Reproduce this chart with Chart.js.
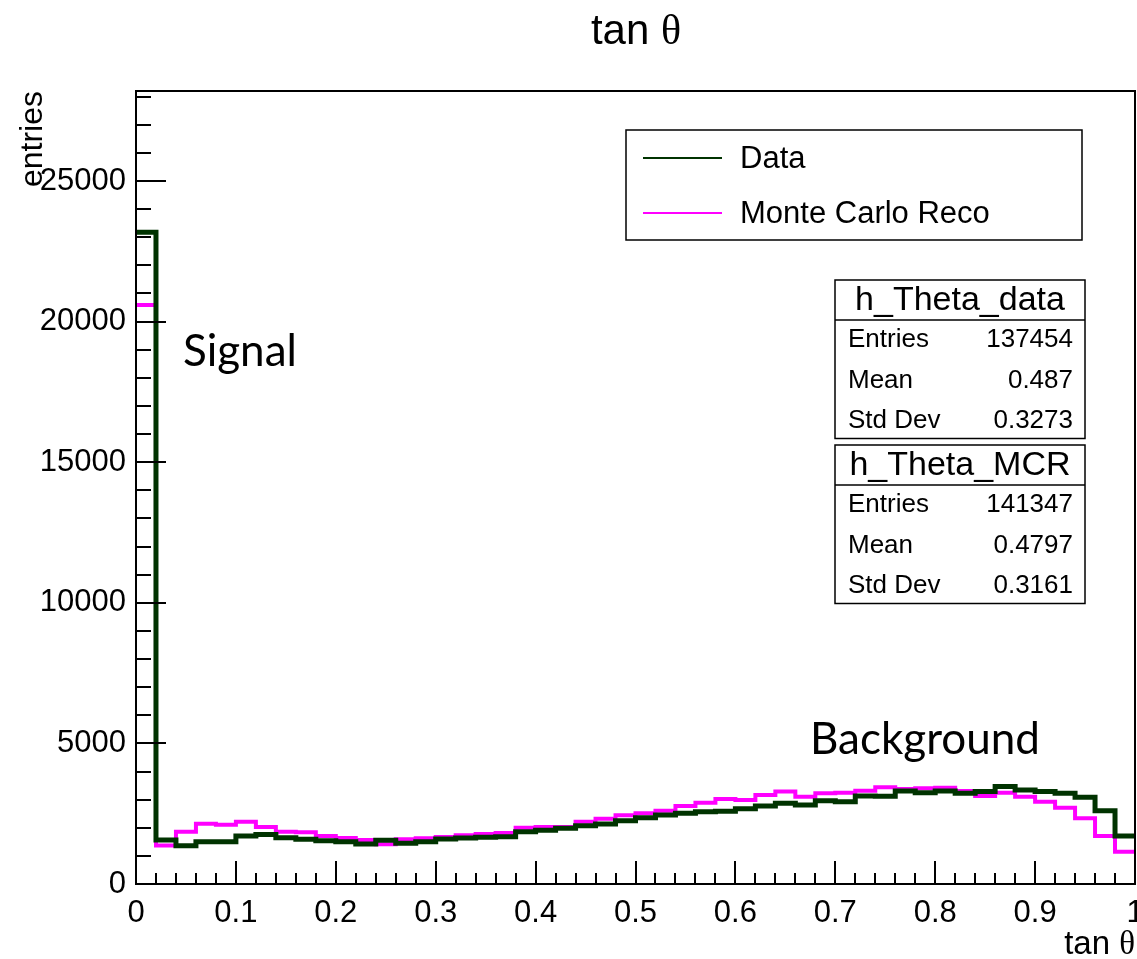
<!DOCTYPE html>
<html>
<head>
<meta charset="utf-8">
<title>tan θ</title>
<script src="https://cdn.jsdelivr.net/npm/chart.js@4.4.1/dist/chart.umd.min.js"></script>
<style>
  html, body { margin: 0; padding: 0; background: #fff; }
  #wrap { width: 1137px; height: 959px; }
</style>
</head>
<body>
<div id="wrap"><canvas id="histo" width="1137" height="959"></canvas></div>
<script>
// ─────────────────────────────────────────
//  Histogram contents : 50 bins on [0, 1]
// ─────────────────────────────────────────

const binLowEdges = [
  0.00, 0.02, 0.04, 0.06, 0.08, 0.10, 0.12, 0.14, 0.16, 0.18,
  0.20, 0.22, 0.24, 0.26, 0.28, 0.30, 0.32, 0.34, 0.36, 0.38,
  0.40, 0.42, 0.44, 0.46, 0.48, 0.50, 0.52, 0.54, 0.56, 0.58,
  0.60, 0.62, 0.64, 0.66, 0.68, 0.70, 0.72, 0.74, 0.76, 0.78,
  0.80, 0.82, 0.84, 0.86, 0.88, 0.90, 0.92, 0.94, 0.96, 0.98
];
const xUpEdge = 1.0;

// h_Theta_data
const dataCounts = [
  23180, 1566, 1363, 1505, 1505, 1708, 1760, 1648, 1591, 1541,
   1505, 1423, 1555, 1448, 1505, 1601, 1637, 1662, 1683, 1861,
   1911, 1982, 2075, 2135, 2253, 2360, 2456, 2516, 2573, 2587,
   2680, 2776, 2872, 2811, 2964, 2929, 3132, 3120, 3310, 3249,
   3310, 3228, 3285, 3463, 3345, 3285, 3228, 3085, 2609, 1708
];

// h_Theta_MCR
const mcRecoCounts = [
  20590, 1370, 1861, 2142, 2110, 2217, 2028, 1861, 1840, 1708,
   1637, 1566, 1413, 1591, 1626, 1673, 1733, 1779, 1815, 2004,
   2028, 2030, 2217, 2324, 2445, 2516, 2609, 2776, 2893, 3025,
   2989, 3167, 3285, 3107, 3228, 3249, 3320, 3441, 3381, 3406,
   3427, 3310, 3132, 3249, 3107, 2929, 2715, 2338, 1708, 1149
];

const xTickValues = [0, 0.1, 0.2, 0.3, 0.4, 0.5, 0.6, 0.7, 0.8, 0.9, 1];
const xTickLabels = ['0', '0.1', '0.2', '0.3', '0.4', '0.5', '0.6', '0.7', '0.8', '0.9', '1'];
const yTickValues = [0, 5000, 10000, 15000, 20000, 25000];
const yTickLabels = ['0', '5000', '10000', '15000', '20000', '25000'];

const legendLabels = ['Data', 'Monte Carlo Reco'];
const statsDataTitle = 'h_Theta_data';
const statsDataRows  = [['Entries', '137454'], ['Mean', '0.487'], ['Std Dev', '0.3273']];
const statsMcrTitle  = 'h_Theta_MCR';
const statsMcrRows   = [['Entries', '141347'], ['Mean', '0.4797'], ['Std Dev', '0.3161']];

const COL_DATA = '#003300';
const COL_MCR  = '#ff00ff';
const SANS  = '"Liberation Sans", Arial, Helvetica, sans-serif';
const SERIF = '"Liberation Serif", "DejaVu Serif", serif';
const NOTE  = 'Lato, "Open Sans", sans-serif';

// step histogram : one point per low edge + closing point at the upper edge
function toSteps(counts) {
  const pts = binLowEdges.map((x, i) => ({ x, y: counts[i] }));
  pts.push({ x: xUpEdge, y: counts[counts.length - 1] });
  return pts;
}

// ─────────────────────────────────────────
//  Helpers for the ROOT-like decorations
// ─────────────────────────────────────────

function hline(ctx, x1, y1, x2, y2) {
  ctx.beginPath();
  ctx.moveTo(x1, y1);
  ctx.lineTo(x2, y2);
  ctx.stroke();
}

// text made of several runs with different fonts (tan + greek theta)
function mixedText(ctx, parts, x, y, align) {
  let total = 0;
  parts.forEach(p => { ctx.font = p.font; total += ctx.measureText(p.text).width; });
  let cx = align === 'center' ? x - total / 2 : align === 'right' ? x - total : x;
  ctx.textAlign = 'left';
  parts.forEach(p => {
    ctx.font = p.font;
    ctx.fillText(p.text, cx, y);
    cx += ctx.measureText(p.text).width;
  });
}

function statsBox(ctx, left, top, title, rows) {
  const w = 250, head = 40, rowH = 40.5, h = head + rows.length * rowH - 3;
  ctx.fillStyle = '#fff';
  ctx.fillRect(left, top, w, h);
  ctx.strokeStyle = '#000';
  ctx.lineWidth = 1.5;
  ctx.strokeRect(left, top, w, h);
  hline(ctx, left, top + head, left + w, top + head);

  ctx.fillStyle = '#000';
  ctx.textBaseline = 'middle';
  ctx.textAlign = 'center';
  ctx.font = `34px ${SANS}`;
  ctx.fillText(title, left + w / 2, top + head / 2 + 1);

  ctx.font = `26px ${SANS}`;
  rows.forEach((r, i) => {
    const yy = top + head + 20 + i * rowH;
    ctx.textAlign = 'left';
    ctx.fillText(r[0], left + 13, yy);
    ctx.textAlign = 'right';
    ctx.fillText(r[1], left + w - 12, yy);
  });
}

const rootPad = {
  id: 'rootPad',
  afterDatasetsDraw(chart) {
    const { ctx, chartArea: a, scales: { x, y } } = chart;
    ctx.save();
    ctx.strokeStyle = '#000';
    ctx.fillStyle = '#000';

    // tick marks, drawn inside the frame
    ctx.lineWidth = 2;
    for (let k = 0; k <= 50; k++) {
      const px = Math.round(x.getPixelForValue(k * 0.02));
      hline(ctx, px, a.bottom, px, a.bottom - (k % 5 === 0 ? 23 : 11));
    }
    for (let v = 0; v <= y.max; v += 1000) {
      const py = Math.round(y.getPixelForValue(v));
      hline(ctx, a.left, py, a.left + (v % 5000 === 0 ? 30 : 15), py);
    }

    // frame
    ctx.lineWidth = 2;
    ctx.strokeRect(a.left, a.top, a.right - a.left, a.bottom - a.top);

    // tick labels
    ctx.font = `31px ${SANS}`;
    ctx.textAlign = 'center';
    ctx.textBaseline = 'top';
    xTickValues.forEach((v, i) => ctx.fillText(xTickLabels[i], x.getPixelForValue(v), a.bottom + 14));
    ctx.textAlign = 'right';
    ctx.textBaseline = 'middle';
    yTickValues.forEach((v, i) => ctx.fillText(yTickLabels[i], a.left - 10, y.getPixelForValue(v)));

    // axis titles
    ctx.textBaseline = 'alphabetic';
    mixedText(ctx, [{ text: 'tan ', font: `33px ${SANS}` }, { text: 'θ', font: `33px ${SERIF}` }],
      a.right, 954, 'right');
    ctx.save();
    ctx.translate(42, a.top);
    ctx.rotate(-Math.PI / 2);
    ctx.font = `32px ${SANS}`;
    ctx.textAlign = 'right';
    ctx.fillText('entries', 0, 0);
    ctx.restore();

    // pad title
    mixedText(ctx, [{ text: 'tan ', font: `42px ${SANS}` }, { text: 'θ', font: `42px ${SERIF}` }],
      636, 44, 'center');

    // legend
    ctx.fillStyle = '#fff';
    ctx.fillRect(626, 130, 456, 110);
    ctx.lineWidth = 1.5;
    ctx.strokeStyle = '#000';
    ctx.strokeRect(626, 130, 456, 110);
    [[COL_DATA, 158], [COL_MCR, 213]].forEach(([c, yy], i) => {
      ctx.strokeStyle = c;
      ctx.lineWidth = 2;
      hline(ctx, 643, yy, 722, yy);
      ctx.fillStyle = '#000';
      ctx.font = `31px ${SANS}`;
      ctx.textAlign = 'left';
      ctx.textBaseline = 'middle';
      ctx.fillText(legendLabels[i], 740, yy + 1);
    });

    // statistics boxes
    statsBox(ctx, 835, 280, statsDataTitle, statsDataRows);
    statsBox(ctx, 835, 445, statsMcrTitle, statsMcrRows);

    // annotations
    ctx.fillStyle = '#000';
    ctx.font = `44px ${NOTE}`;
    ctx.textAlign = 'left';
    ctx.textBaseline = 'alphabetic';
    ctx.fillText('Signal', 183, 366);
    ctx.fillText('Background', 810, 754);

    ctx.restore();
  }
};

// ─────────────────────────────────────────
//  Chart
// ─────────────────────────────────────────

const chart = new Chart(document.getElementById('histo').getContext('2d'), {
  type: 'line',
  data: {
    datasets: [
      {
        label: legendLabels[0],
        data: toSteps(dataCounts),
        borderColor: COL_DATA,
        borderWidth: 5,
        stepped: 'before',
        pointRadius: 0,
        fill: false,
        borderJoinStyle: 'miter',
        borderCapStyle: 'butt'
      },
      {
        label: legendLabels[1],
        data: toSteps(mcRecoCounts),
        borderColor: COL_MCR,
        borderWidth: 4,
        stepped: 'before',
        pointRadius: 0,
        fill: false,
        borderJoinStyle: 'miter',
        borderCapStyle: 'butt'
      }
    ]
  },
  options: {
    responsive: false,
    animation: false,
    layout: { padding: { left: 136, right: 2, top: 91, bottom: 75 } },
    plugins: {
      legend: { display: false },
      tooltip: { enabled: false },
      title: { display: false }
    },
    scales: {
      x: { type: 'linear', min: 0, max: 1, display: false },
      y: { type: 'linear', min: 0, max: 28200, display: false }
    }
  },
  plugins: [rootPad]
});
</script>
</body>
</html>
